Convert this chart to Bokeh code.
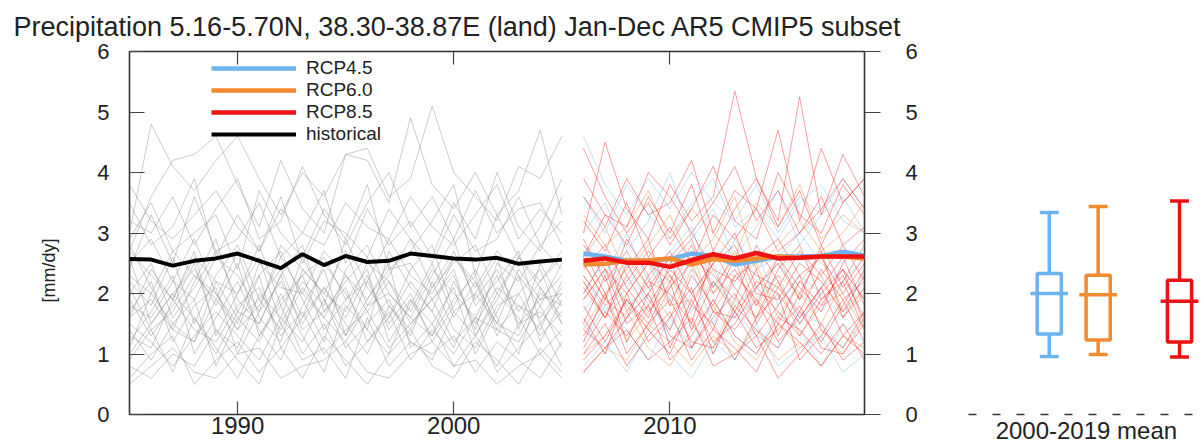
from bokeh.plotting import figure
from bokeh.layouts import row
from bokeh.models import (Range1d, LinearAxis, FixedTicker, Legend, LegendItem, Title,
                          ColumnDataSource, CustomLabelingPolicy)
from bokeh.embed import file_html
from bokeh.resources import INLINE

TITLE = "Precipitation 5.16-5.70N, 38.30-38.87E (land) Jan-Dec AR5 CMIP5 subset"
Y_LABEL = "[mm/dy]"
BOX_AXIS_LABEL = "2000-2019 mean"

hist_years = list(range(1985, 2006))
fut_years = list(range(2006, 2020))
x_ticks = [1990, 2000, 2010]
y_ticks = [0, 1, 2, 3, 4, 5, 6]

hist_mean = [2.57, 2.56, 2.46, 2.54, 2.58, 2.66, 2.54, 2.42, 2.65, 2.47, 2.62,
             2.52, 2.54, 2.66, 2.62, 2.58, 2.56, 2.59, 2.49, 2.53, 2.56]
rcp45_mean = [2.66, 2.61, 2.54, 2.54, 2.57, 2.66, 2.62, 2.48, 2.54, 2.61, 2.61, 2.62, 2.69, 2.63]
rcp60_mean = [2.48, 2.49, 2.54, 2.55, 2.58, 2.48, 2.57, 2.54, 2.58, 2.61, 2.59, 2.61, 2.61, 2.58]
rcp85_mean = [2.54, 2.58, 2.51, 2.51, 2.44, 2.55, 2.65, 2.58, 2.67, 2.58, 2.59, 2.61, 2.61, 2.61]

hist_runs = [
    [3.0, 4.8, 4.1, 3.7, 4.2, 4.6, 3.9, 3.3, 4.0, 3.6, 4.3, 4.2, 3.5, 4.9, 3.8, 3.4, 4.0, 3.3, 3.7, 4.7, 3.3],
    [2.7, 3.6, 4.2, 4.3, 4.6, 3.8, 3.1, 4.2, 3.4, 3.0, 4.3, 4.4, 3.6, 3.9, 5.1, 4.0, 3.6, 3.2, 4.1, 3.9, 4.6],
    [3.2, 3.0, 3.6, 2.8, 3.4, 3.9, 2.9, 3.2, 4.1, 3.3, 2.8, 3.5, 4.0, 3.1, 3.6, 2.9, 3.7, 3.0, 3.4, 3.5, 2.8],
    [2.4, 3.3, 2.5, 3.6, 2.7, 2.9, 3.5, 2.6, 3.0, 3.7, 2.5, 3.4, 2.8, 3.2, 2.6, 3.5, 2.9, 4.0, 3.1, 2.7, 3.6],
    [2.2, 1.8, 2.6, 1.5, 2.3, 2.8, 1.9, 2.4, 1.6, 2.5, 2.0, 1.4, 2.7, 2.1, 1.7, 2.6, 2.2, 1.5, 2.4, 1.9, 2.3],
    [1.6, 2.4, 1.9, 2.7, 1.3, 2.0, 2.6, 1.5, 2.2, 1.8, 2.9, 2.1, 1.6, 2.4, 2.8, 1.7, 2.0, 2.6, 1.4, 2.5, 1.8],
    [2.8, 2.1, 1.4, 2.2, 2.9, 1.7, 2.3, 2.7, 1.9, 1.2, 2.4, 2.8, 2.0, 1.6, 2.3, 2.9, 1.8, 2.2, 2.7, 1.5, 2.0],
    [1.2, 1.7, 2.3, 1.0, 1.6, 2.2, 1.4, 0.9, 1.8, 2.4, 1.3, 1.9, 2.5, 1.1, 1.5, 2.1, 1.0, 1.7, 2.3, 1.2, 1.9],
    [0.9, 1.4, 0.7, 1.6, 1.1, 0.6, 1.3, 1.8, 1.0, 1.5, 0.8, 1.2, 1.7, 0.9, 1.4, 1.0, 1.6, 0.7, 1.1, 1.5, 0.8],
    [1.9, 1.3, 1.8, 2.5, 1.4, 1.1, 2.0, 1.6, 2.6, 1.9, 1.3, 2.2, 1.5, 2.0, 1.2, 1.8, 2.4, 1.6, 1.0, 2.1, 1.5],
    [2.5, 2.9, 2.2, 1.9, 2.6, 2.3, 1.7, 2.8, 2.4, 2.0, 2.7, 1.8, 2.3, 2.9, 2.1, 2.5, 2.8, 2.0, 2.6, 2.2, 2.7],
    [1.4, 0.9, 1.5, 1.9, 0.8, 1.6, 1.2, 2.0, 1.3, 0.7, 1.8, 1.4, 1.0, 1.9, 1.5, 0.8, 1.3, 2.0, 1.6, 1.0, 1.4],
    [0.6, 1.0, 1.3, 0.5, 0.9, 1.2, 0.7, 1.1, 0.6, 1.3, 0.9, 0.5, 1.0, 1.4, 0.8, 0.6, 1.2, 0.9, 0.5, 1.1, 0.7],
    [2.0, 2.5, 1.6, 2.1, 2.7, 1.9, 1.5, 2.3, 2.8, 1.7, 2.2, 2.6, 1.8, 1.4, 2.1, 2.7, 1.9, 2.4, 1.7, 2.2, 2.6],
    [1.1, 2.0, 1.5, 1.2, 1.9, 1.4, 2.3, 1.1, 1.6, 2.1, 1.5, 1.0, 1.8, 1.3, 2.2, 1.4, 1.1, 1.8, 2.0, 1.3, 1.7],
    [2.6, 1.5, 2.0, 2.4, 1.8, 2.5, 1.3, 1.9, 2.3, 1.4, 1.9, 2.4, 1.2, 1.8, 2.5, 1.6, 2.2, 1.3, 2.0, 2.4, 1.5],
    [1.7, 2.2, 1.2, 1.8, 2.1, 1.0, 1.7, 2.2, 1.5, 2.1, 1.6, 2.3, 1.4, 1.9, 1.3, 2.2, 1.5, 2.1, 1.8, 1.4, 2.2],
    [3.5, 2.8, 3.1, 3.9, 2.6, 3.3, 2.7, 3.6, 2.5, 3.2, 3.0, 2.6, 3.4, 2.9, 2.5, 3.3, 2.7, 2.9, 3.6, 2.8, 3.2],
    [1.3, 1.1, 1.9, 1.4, 1.2, 1.8, 2.1, 1.3, 1.7, 1.0, 1.4, 1.7, 1.1, 1.5, 1.9, 1.2, 1.6, 1.4, 1.2, 1.8, 1.1],
    [2.3, 2.0, 2.7, 2.3, 2.0, 1.5, 2.5, 2.1, 2.0, 2.7, 2.3, 1.9, 2.4, 2.5, 1.9, 2.3, 1.4, 2.5, 2.2, 2.8, 2.4],
    [0.8, 0.6, 1.0, 0.8, 1.4, 0.9, 0.5, 1.5, 0.9, 1.1, 0.6, 1.6, 0.8, 1.2, 1.0, 1.3, 0.7, 1.2, 0.9, 0.6, 1.2],
    [1.8, 1.6, 2.2, 2.9, 2.0, 1.4, 1.8, 2.6, 2.0, 1.6, 2.3, 1.7, 2.2, 1.7, 2.4, 2.0, 1.6, 2.3, 1.5, 1.9, 2.0],
    [2.9, 3.5, 2.7, 3.0, 3.3, 2.4, 3.7, 3.0, 2.6, 3.4, 2.9, 3.8, 2.4, 2.7, 3.2, 3.8, 2.3, 3.3, 2.6, 3.1, 3.9],
    [1.5, 1.2, 0.8, 1.3, 1.7, 1.3, 0.9, 1.6, 1.2, 1.9, 1.1, 1.5, 1.9, 1.2, 0.9, 1.7, 1.3, 0.8, 1.5, 1.7, 1.3],
    [2.1, 1.4, 1.7, 2.3, 1.9, 2.7, 1.6, 1.2, 2.4, 2.0, 1.7, 2.5, 2.2, 1.5, 1.9, 2.4, 1.3, 1.9, 2.6, 2.1, 1.6],
    [1.0, 1.5, 2.0, 1.6, 1.0, 1.7, 1.5, 2.3, 1.4, 1.7, 2.1, 1.2, 1.6, 2.2, 1.7, 1.1, 2.0, 1.5, 1.3, 2.0, 1.8],
    [2.7, 2.3, 1.9, 2.6, 2.2, 2.0, 2.8, 1.8, 2.3, 2.6, 1.9, 2.2, 2.9, 2.3, 2.0, 2.6, 2.1, 2.7, 2.3, 1.8, 2.5],
    [0.5, 0.8, 1.1, 0.7, 0.6, 1.0, 1.1, 0.6, 0.8, 0.9, 1.2, 0.7, 0.6, 1.0, 1.2, 0.8, 0.9, 0.5, 0.8, 1.0, 0.6],
    [1.6, 1.9, 1.4, 1.2, 2.2, 1.6, 1.9, 1.4, 2.1, 1.6, 1.2, 1.8, 2.0, 1.6, 1.3, 1.9, 2.3, 1.4, 1.8, 1.6, 2.1],
    [3.8, 3.2, 2.9, 3.3, 3.7, 3.1, 2.7, 3.4, 3.0, 2.8, 3.5, 3.1, 2.9, 3.6, 3.1, 2.8, 3.3, 3.8, 2.9, 3.4, 3.0],
]

rcp45_runs = [
    [4.6, 3.8, 3.3, 3.9, 3.4, 4.0, 3.5, 3.2, 3.8, 3.0, 3.6, 3.3, 3.9, 3.4],
    [2.3, 1.7, 2.1, 2.6, 1.9, 2.4, 1.5, 2.2, 2.7, 1.8, 2.3, 2.0, 1.6, 2.4],
    [1.2, 1.8, 1.4, 0.9, 1.6, 1.1, 1.9, 1.3, 1.0, 1.7, 1.4, 0.8, 1.5, 1.2],
    [3.0, 3.5, 2.7, 3.2, 4.0, 2.9, 3.4, 2.6, 3.1, 3.7, 2.8, 3.3, 3.6, 3.0],
    [1.7, 2.2, 2.5, 1.8, 1.4, 2.0, 2.5, 1.6, 1.9, 2.3, 1.5, 2.1, 2.4, 1.9],
    [0.8, 1.2, 0.7, 1.4, 1.0, 0.6, 1.2, 0.9, 1.5, 0.8, 1.1, 1.3, 0.7, 1.0],
    [2.8, 2.3, 3.0, 2.2, 2.7, 3.1, 2.1, 2.9, 2.4, 2.6, 3.0, 2.5, 2.2, 2.8],
    [2.0, 2.6, 1.8, 2.1, 2.3, 1.7, 2.2, 1.8, 2.1, 2.5, 2.0, 1.7, 2.2, 2.6],
    [1.5, 1.0, 1.6, 2.0, 1.2, 1.5, 1.0, 1.7, 1.3, 1.1, 1.7, 1.5, 1.1, 1.6],
    [3.6, 3.0, 3.8, 3.3, 2.9, 3.5, 3.9, 3.1, 3.4, 2.9, 3.5, 3.8, 3.2, 3.0],
]

rcp60_runs = [
    [2.5, 1.9, 2.6, 2.1, 1.6, 2.4, 2.0, 2.7, 1.8, 2.3, 2.0, 1.5, 2.2, 2.8],
    [1.4, 2.0, 1.2, 1.7, 2.3, 1.5, 1.1, 1.9, 1.6, 2.2, 1.3, 1.8, 2.0, 1.4],
    [3.3, 2.8, 3.1, 3.7, 2.9, 3.4, 3.0, 2.6, 3.5, 3.1, 3.8, 2.9, 3.3, 3.0],
    [1.9, 2.4, 1.8, 1.4, 2.1, 2.7, 1.7, 2.3, 2.5, 1.6, 2.2, 2.6, 1.7, 2.1],
    [1.0, 1.3, 1.7, 1.1, 0.8, 1.4, 1.8, 1.2, 0.9, 1.5, 1.1, 1.4, 1.0, 1.6],
    [2.6, 3.1, 2.3, 2.8, 3.3, 2.5, 2.9, 3.6, 2.4, 2.8, 3.2, 2.7, 3.0, 3.5],
    [2.2, 1.6, 2.0, 2.5, 1.8, 1.9, 2.4, 1.7, 2.1, 2.6, 1.9, 2.3, 1.6, 2.0],
    [0.7, 1.1, 0.9, 1.5, 1.2, 0.8, 1.3, 1.0, 1.4, 0.9, 1.2, 0.8, 1.3, 1.1],
]

rcp85_runs = [
    [3.0, 4.5, 3.4, 2.9, 3.8, 3.2, 3.6, 5.35, 3.9, 3.1, 3.7, 2.8, 3.5, 3.9],
    [2.6, 3.3, 2.8, 3.6, 3.0, 3.8, 2.7, 3.4, 3.9, 3.2, 5.25, 3.3, 4.3, 3.6],
    [4.4, 3.6, 3.0, 3.5, 2.8, 3.4, 4.1, 3.2, 2.9, 4.0, 3.3, 3.0, 3.8, 3.3],
    [2.2, 1.6, 2.5, 1.9, 1.4, 2.3, 1.8, 2.6, 1.5, 2.1, 1.7, 2.4, 1.9, 2.2],
    [1.5, 2.3, 1.2, 2.0, 2.6, 1.4, 2.2, 1.7, 2.4, 1.3, 2.0, 2.7, 1.6, 2.1],
    [2.7, 2.0, 2.4, 2.9, 1.8, 2.6, 2.3, 1.9, 2.8, 2.2, 1.6, 2.1, 2.6, 1.8],
    [1.0, 1.5, 0.8, 1.3, 1.7, 0.9, 1.4, 1.1, 0.7, 1.5, 1.2, 0.8, 1.3, 1.0],
    [1.8, 1.2, 1.9, 1.5, 2.2, 1.1, 1.6, 2.0, 1.3, 1.8, 2.3, 1.4, 1.1, 1.7],
    [2.4, 2.8, 2.1, 1.6, 2.5, 2.9, 2.0, 2.4, 1.8, 2.6, 2.1, 1.7, 2.5, 2.9],
    [0.7, 1.1, 1.4, 0.9, 1.2, 1.6, 0.8, 1.0, 1.3, 0.6, 1.0, 1.5, 0.9, 1.2],
    [1.3, 1.9, 1.6, 2.3, 1.1, 1.9, 1.2, 1.5, 2.1, 1.7, 1.3, 1.9, 2.2, 1.4],
    [3.2, 2.7, 3.5, 2.6, 3.1, 2.5, 3.3, 2.9, 3.4, 2.7, 3.0, 3.6, 2.8, 3.1],
    [2.0, 2.6, 1.7, 2.2, 2.0, 1.5, 2.7, 2.1, 1.6, 2.4, 2.8, 1.9, 2.3, 1.6],
    [1.6, 1.0, 2.0, 1.2, 1.6, 2.1, 1.0, 1.8, 1.4, 1.1, 1.7, 1.2, 1.8, 2.4],
    [2.9, 2.2, 2.7, 2.1, 2.6, 3.0, 2.4, 2.2, 2.6, 2.9, 2.3, 2.6, 2.0, 2.5],
    [1.1, 1.7, 1.3, 1.8, 0.9, 1.3, 1.9, 1.3, 1.0, 1.6, 1.4, 1.0, 1.5, 0.9],
    [3.6, 3.1, 3.9, 3.3, 3.5, 4.2, 3.0, 3.7, 3.4, 4.7, 3.2, 4.4, 3.5, 3.9],
    [2.3, 1.8, 2.2, 2.7, 2.3, 1.8, 2.5, 2.8, 2.0, 1.9, 2.5, 2.2, 1.7, 2.3],
    [1.9, 2.4, 1.5, 1.8, 2.4, 2.0, 1.4, 2.3, 1.9, 1.5, 2.2, 1.8, 2.4, 1.5],
    [0.9, 1.3, 1.9, 1.4, 1.0, 1.8, 1.5, 0.9, 1.6, 2.0, 0.9, 1.3, 1.9, 1.2],
    [2.5, 1.9, 2.9, 2.3, 2.7, 2.0, 2.5, 3.0, 2.1, 2.5, 1.9, 2.8, 2.1, 2.6],
    [1.4, 1.1, 1.6, 2.0, 1.3, 1.1, 1.7, 1.4, 1.9, 1.2, 1.6, 2.1, 1.3, 1.7],
    [3.9, 3.3, 3.1, 4.0, 3.6, 3.0, 3.5, 4.1, 3.2, 3.7, 3.0, 3.4, 3.9, 3.4],
    [2.1, 1.6, 2.3, 1.7, 2.1, 2.5, 1.7, 1.6, 2.2, 2.0, 1.5, 2.0, 2.4, 1.9],
    [1.2, 2.0, 1.0, 1.5, 1.9, 1.2, 1.1, 1.7, 1.1, 1.4, 1.8, 1.1, 1.0, 1.5],
    [2.8, 2.4, 2.0, 2.5, 2.2, 2.8, 2.1, 2.6, 2.3, 2.1, 2.7, 2.3, 2.8, 2.2],
]

box_names = ["RCP4.5", "RCP6.0", "RCP8.5"]
box_pos = [1.37, 2.2, 3.58]
box_low = [0.96, 0.99, 0.95]
box_q1 = [1.33, 1.23, 1.20]
box_med = [2.00, 1.98, 1.87]
box_q3 = [2.33, 2.30, 2.22]
box_high = [3.34, 3.44, 3.53]
box_label_tick = 2

FONT = "Liberation Sans"
C45 = "#6cb4f0"
C60 = "#f28a30"
C85 = "#ee1111"
TXT = "#222222"
AX = "#444444"

H = 446
TOP = 51
BOTTOM = 29

# ---------------- main time-series panel ----------------
p = figure(width=935, height=H, x_range=Range1d(1985, 2019), y_range=Range1d(0, 6),
           output_backend="svg", toolbar_location=None,
           min_border_left=128, min_border_right=71, min_border_top=TOP, min_border_bottom=BOTTOM,
           title=TITLE)
p.title.text_font = FONT
p.title.text_font_size = "27px"
p.title.text_font_style = "normal"
p.title.text_color = TXT
p.title.align = "left"
p.title.offset = -116
p.title.standoff = 19

p.grid.visible = False
p.outline_line_color = "#333333"
p.outline_line_width = 1.6
p.background_fill_color = "white"
p.border_fill_color = "white"

for ax in (p.xaxis[0], p.yaxis[0]):
    ax.axis_line_color = None
    ax.major_tick_line_color = AX
    ax.major_tick_line_width = 1.2
    ax.minor_tick_line_color = None
    ax.major_tick_out = 0
    ax.major_label_text_font = FONT
    ax.major_label_text_color = TXT

p.xaxis[0].ticker = FixedTicker(ticks=x_ticks)
p.xaxis[0].major_tick_in = 13
p.xaxis[0].major_label_standoff = 2
p.xaxis[0].major_label_text_font_size = "24px"
p.yaxis[0].ticker = FixedTicker(ticks=y_ticks)
p.yaxis[0].major_tick_in = 15
p.yaxis[0].major_label_standoff = 20
p.yaxis[0].major_label_text_font_size = "22px"

top_axis = LinearAxis(ticker=FixedTicker(ticks=x_ticks), axis_line_color=None,
                      major_tick_in=13, major_tick_out=0, major_tick_line_color=AX,
                      major_tick_line_width=1.2, minor_tick_line_color=None,
                      major_label_text_font_size="0px", major_label_standoff=0,
                      major_label_policy=CustomLabelingPolicy(code="return []"))
p.add_layout(top_axis, "above")

right_axis = LinearAxis(ticker=FixedTicker(ticks=y_ticks), axis_line_color=None,
                        major_tick_in=0, major_tick_out=16, major_tick_line_color=AX,
                        major_tick_line_width=1.2, minor_tick_line_color=None,
                        major_label_text_font=FONT, major_label_text_font_size="22px",
                        major_label_text_color=TXT, major_label_standoff=25)
p.add_layout(right_axis, "right")

ylab = Title(text=Y_LABEL, align="left", offset=112, standoff=72,
             text_font=FONT, text_font_size="18px", text_font_style="normal", text_color=TXT)
p.add_layout(ylab, "left")

p.multi_line(xs=[hist_years] * len(hist_runs), ys=hist_runs, line_color="#8c8c8c", line_alpha=0.45, line_width=1)
p.multi_line(xs=[fut_years] * len(rcp45_runs), ys=rcp45_runs, line_color=C45, line_alpha=0.4, line_width=1)
p.multi_line(xs=[fut_years] * len(rcp60_runs), ys=rcp60_runs, line_color=C60, line_alpha=0.45, line_width=1)
p.multi_line(xs=[fut_years] * len(rcp85_runs), ys=rcp85_runs, line_color=C85, line_alpha=0.4, line_width=1)

r45 = p.line(fut_years, rcp45_mean, line_color=C45, line_width=4.5)
r60 = p.line(fut_years, rcp60_mean, line_color=C60, line_width=4.5)
r85 = p.line(fut_years, rcp85_mean, line_color=C85, line_width=4.5)
rh = p.line(hist_years, hist_mean, line_color="black", line_width=4)

legend = Legend(items=[LegendItem(label="RCP4.5", renderers=[r45]),
                       LegendItem(label="RCP6.0", renderers=[r60]),
                       LegendItem(label="RCP8.5", renderers=[r85]),
                       LegendItem(label="historical", renderers=[rh])],
                location=(80, 267), glyph_width=85, glyph_height=20, label_height=20,
                label_standoff=10, spacing=0, padding=2, margin=0,
                label_text_font=FONT, label_text_font_size="19px", label_text_color=TXT,
                background_fill_alpha=0, border_line_alpha=0)
p.add_layout(legend)

# ---------------- box-plot panel ----------------
q = figure(width=267, height=H, x_range=Range1d(0, 3.97), y_range=Range1d(0, 6),
           output_backend="svg", toolbar_location=None, y_axis_location=None,
           min_border_left=33, min_border_right=0, min_border_top=TOP, min_border_bottom=BOTTOM)
q.grid.visible = False
q.outline_line_color = None
q.border_fill_color = "white"
xa = q.xaxis[0]
xa.ticker = FixedTicker(ticks=[box_label_tick])
xa.major_label_overrides = {box_label_tick: BOX_AXIS_LABEL}
xa.major_tick_in = 0
xa.major_tick_out = 0
xa.minor_tick_line_color = None
xa.axis_line_color = "#333333"
xa.axis_line_width = 1.3
xa.axis_line_dash = "8 16"
xa.major_label_standoff = 2
xa.major_label_text_font = FONT
xa.major_label_text_font_size = "24px"
xa.major_label_text_color = TXT

colors = [C45, C60, C85]
src = ColumnDataSource(dict(
    x=box_pos, low=box_low, q1=box_q1, med=box_med, q3=box_q3, high=box_high, color=colors,
    cap_l=[v - 0.16 for v in box_pos], cap_r=[v + 0.16 for v in box_pos],
    med_l=[v - 0.32 for v in box_pos], med_r=[v + 0.32 for v in box_pos],
))
LW = 3.5
q.segment(x0="x", y0="q3", x1="x", y1="high", source=src, line_color="color", line_width=LW)
q.segment(x0="x", y0="low", x1="x", y1="q1", source=src, line_color="color", line_width=LW)
q.segment(x0="cap_l", y0="high", x1="cap_r", y1="high", source=src, line_color="color", line_width=LW)
q.segment(x0="cap_l", y0="low", x1="cap_r", y1="low", source=src, line_color="color", line_width=LW)
q.vbar(x="x", width=0.41, bottom="q1", top="q3", source=src, fill_color="white",
       line_color="color", line_width=LW)
q.segment(x0="med_l", y0="med", x1="med_r", y1="med", source=src, line_color="color", line_width=LW)

layout = row(p, q)
open("out.html", "w").write(file_html(layout, INLINE))
